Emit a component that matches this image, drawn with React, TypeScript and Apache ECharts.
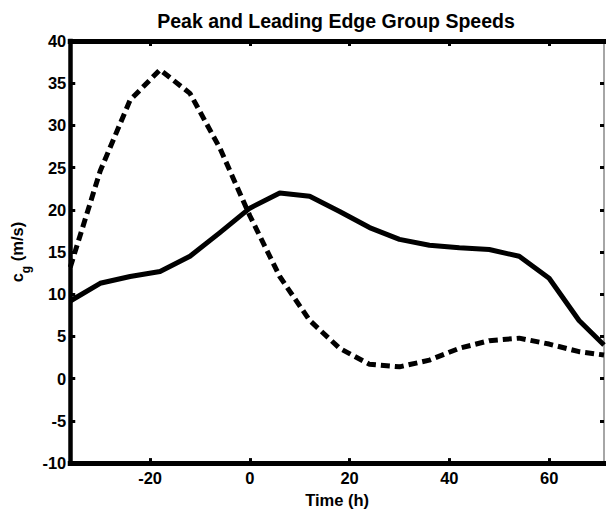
import React, { useEffect, useRef } from "react";
import * as echarts from "echarts";

// Time (h)
const times = [-36, -30, -24, -18, -12, -6, 0, 6, 12, 18, 24, 30, 36, 42, 48, 54, 60, 66, 71];
// Peak group speed (solid), m/s
const peakSpeed = [9.2, 11.3, 12.1, 12.7, 14.5, 17.3, 20.2, 22.0, 21.6, 19.8, 17.9, 16.5, 15.8, 15.5, 15.3, 14.5, 11.9, 6.9, 4.0];
// Leading edge group speed (dashed), m/s
const leadingEdgeSpeed = [13.2, 24.6, 33.0, 36.6, 33.8, 27.3, 19.3, 12.1, 6.9, 3.6, 1.7, 1.4, 2.2, 3.6, 4.5, 4.8, 4.1, 3.2, 2.8];
// Axis ticks
const xTicks = [-20, 0, 20, 40, 60];
const xMin = -36;
const xMax = 71;
const yMin = -10;
const yMax = 40;
const yStep = 5;

const FONT = "Liberation Sans";

export default function App() {
  const ref = useRef<HTMLDivElement>(null);

  useEffect(() => {
    if (!ref.current) return;
    const chart = echarts.init(ref.current, undefined, { renderer: "svg" });

    const tickStyle = {
      fontFamily: FONT,
      fontWeight: "bold" as const,
      fontSize: 16.5,
      color: "#000",
    };
    const nameStyle = {
      fontFamily: FONT,
      fontWeight: "bold" as const,
      fontSize: 16.5,
      color: "#000",
    };

    const option: any = {
      animation: false,
      backgroundColor: "#fff",
      textStyle: { fontFamily: FONT, color: "#000" },
      title: {
        text: "Peak and Leading Edge Group Speeds",
        left: 331,
        top: 6,
        textAlign: "center",
        textStyle: { fontFamily: FONT, fontWeight: "bold", fontSize: 19.5, color: "#000" },
      },
      grid: { left: 58, top: 41, right: 2, bottom: 41, containLabel: false },
      xAxis: [
        {
          type: "value",
          position: "bottom",
          min: xMin,
          max: xMax,
          name: "Time (h)",
          nameLocation: "middle",
          nameGap: 22,
          nameTextStyle: nameStyle,
          axisLine: { show: true, onZero: false, lineStyle: { color: "#000", width: 5, cap: "square" } },
          axisTick: { show: true, inside: true, length: 5, customValues: xTicks, lineStyle: { color: "#000", width: 3 } },
          axisLabel: { show: true, margin: 6, customValues: xTicks, ...tickStyle },
          splitLine: { show: false },
        },
        {
          type: "value",
          position: "top",
          min: xMin,
          max: xMax,
          axisLine: { show: true, onZero: false, lineStyle: { color: "#000", width: 5, cap: "square" } },
          axisTick: { show: true, inside: true, length: 5, customValues: xTicks, lineStyle: { color: "#000", width: 3 } },
          axisLabel: { show: false },
          splitLine: { show: false },
        },
      ],
      yAxis: [
        {
          type: "value",
          position: "left",
          min: yMin,
          max: yMax,
          interval: yStep,
          name: "{c|c}{g|g}{c| (m/s)}",
          nameLocation: "middle",
          nameRotate: 90,
          nameGap: 30,
          nameTextStyle: {
            ...nameStyle,
            rich: {
              c: { ...nameStyle },
              g: { fontFamily: FONT, fontWeight: "bold", fontSize: 12, color: "#000", padding: [18, 0, 0, 0] },
            },
          },
          axisLine: { show: true, onZero: false, lineStyle: { color: "#000", width: 4.5, cap: "square" } },
          axisTick: { show: true, inside: true, length: 5, lineStyle: { color: "#000", width: 3 } },
          axisLabel: { show: true, margin: 4, ...tickStyle },
          splitLine: { show: false },
        },
        {
          type: "value",
          position: "right",
          min: yMin,
          max: yMax,
          interval: yStep,
          axisLine: { show: true, onZero: false, lineStyle: { color: "#888", width: 1.5 } },
          axisTick: { show: true, inside: true, length: 4, lineStyle: { color: "#000", width: 3 } },
          axisLabel: { show: false },
          splitLine: { show: false },
        },
      ],
      series: [
        {
          name: "Peak",
          type: "line",
          xAxisIndex: 0,
          yAxisIndex: 0,
          showSymbol: false,
          symbol: "none",
          data: times.map((t, i) => [t, peakSpeed[i]]),
          lineStyle: { color: "#000", width: 5, join: "round" },
          z: 3,
        },
        {
          name: "Leading Edge",
          type: "line",
          xAxisIndex: 0,
          yAxisIndex: 0,
          showSymbol: false,
          symbol: "none",
          data: times.map((t, i) => [t, leadingEdgeSpeed[i]]),
          lineStyle: { color: "#000", width: 5, type: [9, 5], cap: "butt" },
          z: 3,
        },
      ],
    };

    chart.setOption(option);
    return () => chart.dispose();
  }, []);

  return (
    <div
      ref={ref}
      style={{ position: "fixed", left: 0, top: 0, width: 606, height: 513, background: "#fff" }}
    />
  );
}
